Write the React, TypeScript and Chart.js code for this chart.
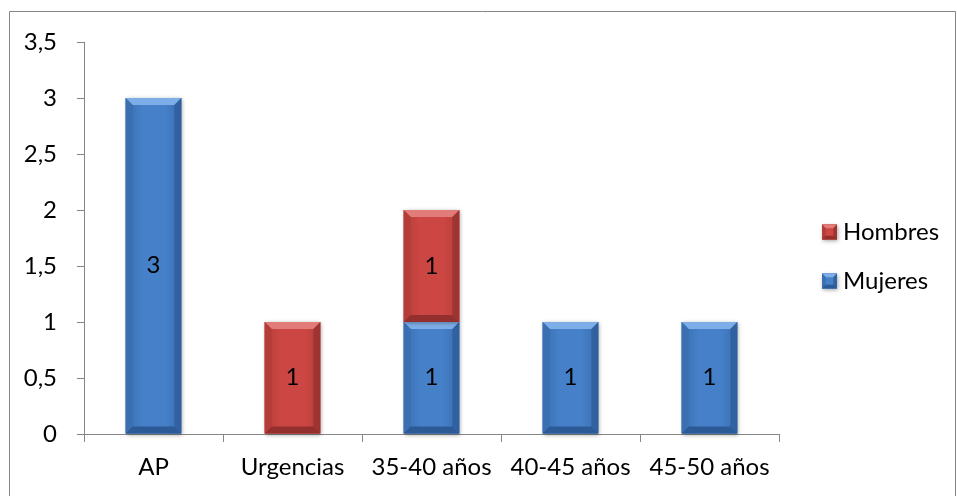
import React, { useEffect, useRef } from "react";
import { Chart, registerables } from "chart.js";

Chart.register(...registerables);

const categories = ["AP", "Urgencias", "35-40 años", "40-45 años", "45-50 años"];
const mujeres = [3, null, 1, 1, 1];
const hombres = [null, 1, 1, null, null];
const yTicks = [0, 0.5, 1, 1.5, 2, 2.5, 3, 3.5];

const FONT = "Lato";
const FS = 24;

const palettes: Record<string, { base: string; light: string; dark: string; side: string }> = {
  Mujeres: { base: "#4580c8", light: "#7eaee8", dark: "#2c5a96", side: "#3a6fb2" },
  Hombres: { base: "#cc4743", light: "#e27c78", dark: "#93302d", side: "#b53d39" },
};

function bevelRect(ctx: CanvasRenderingContext2D, l: number, t: number, w: number, h: number, p: { base: string; light: string; dark: string; side: string }) {
  const r = l + w;
  const b = t + h;
  const bv = Math.min(7, h / 4, w / 4);
  ctx.save();
  ctx.shadowColor = "rgba(0,0,0,0.35)";
  ctx.shadowBlur = 4;
  ctx.shadowOffsetX = 1;
  ctx.shadowOffsetY = 1;
  ctx.fillStyle = p.base;
  ctx.fillRect(l, t, w, h);
  ctx.restore();
  ctx.save();
  const g = ctx.createLinearGradient(l, 0, r, 0);
  g.addColorStop(0, p.side);
  g.addColorStop(0.3, p.base);
  g.addColorStop(0.7, p.base);
  g.addColorStop(1, p.side);
  ctx.fillStyle = g;
  ctx.fillRect(l, t, w, h);
  ctx.beginPath();
  ctx.moveTo(l, t);
  ctx.lineTo(r, t);
  ctx.lineTo(r - bv, t + bv);
  ctx.lineTo(l + bv, t + bv);
  ctx.closePath();
  ctx.fillStyle = p.light;
  ctx.fill();
  ctx.beginPath();
  ctx.moveTo(l, t);
  ctx.lineTo(l + bv, t + bv);
  ctx.lineTo(l + bv, b - bv);
  ctx.lineTo(l, b);
  ctx.closePath();
  ctx.fillStyle = p.side;
  ctx.fill();
  ctx.beginPath();
  ctx.moveTo(r, t);
  ctx.lineTo(r - bv, t + bv);
  ctx.lineTo(r - bv, b - bv);
  ctx.lineTo(r, b);
  ctx.closePath();
  ctx.fillStyle = p.dark;
  ctx.globalAlpha = 0.7;
  ctx.fill();
  ctx.globalAlpha = 1;
  ctx.beginPath();
  ctx.moveTo(l, b);
  ctx.lineTo(l + bv, b - bv);
  ctx.lineTo(r - bv, b - bv);
  ctx.lineTo(r, b);
  ctx.closePath();
  ctx.fillStyle = p.dark;
  ctx.fill();
  ctx.restore();
}

const bevelPlugin = {
  id: "bevel",
  afterDatasetsDraw(chart: any) {
    const ctx: CanvasRenderingContext2D = chart.ctx;
    chart.data.datasets.forEach((ds: any, i: number) => {
      const meta = chart.getDatasetMeta(i);
      const p = palettes[ds.label];
      meta.data.forEach((el: any, j: number) => {
        const v = ds.data[j];
        if (v === null || v === undefined || v === 0) return;
        const props = el.getProps(["x", "y", "base", "width"], true);
        const l = props.x - props.width / 2;
        const t = Math.min(props.y, props.base);
        const h = Math.abs(props.base - props.y);
        bevelRect(ctx, l, t, props.width, h, p);
        ctx.save();
        ctx.fillStyle = "#000";
        ctx.font = `${FS}px ${FONT}`;
        ctx.textAlign = "center";
        ctx.textBaseline = "middle";
        ctx.fillText(String(v).replace(".", ","), props.x, t + h / 2);
        ctx.restore();
      });
    });
  },
  afterDraw(chart: any) {
    const ctx: CanvasRenderingContext2D = chart.ctx;
    ctx.save();
    ctx.strokeStyle = "#868686";
    ctx.lineWidth = 1;
    ctx.beginPath();
    ctx.moveTo(9.5, chart.height + 5);
    ctx.lineTo(9.5, 11.5);
    ctx.lineTo(955.5, 11.5);
    ctx.lineTo(955.5, chart.height + 5);
    ctx.stroke();
    ctx.restore();
    const items = [...chart.data.datasets].reverse();
    const boxX = chart.chartArea.right + 43;
    const startY = 232;
    items.forEach((ds: any, k: number) => {
      const cy = startY + k * 49;
      bevelRect(ctx, boxX, cy - 7.5, 15, 15, palettes[ds.label]);
      ctx.save();
      ctx.fillStyle = "#000";
      ctx.font = `${FS}px ${FONT}`;
      ctx.textAlign = "left";
      ctx.textBaseline = "middle";
      ctx.fillText(ds.label, boxX + 21, cy);
      ctx.restore();
    });
  },
};

export default function App() {
  const ref = useRef<HTMLCanvasElement>(null);
  useEffect(() => {
    if (!ref.current) return;
    const chart = new Chart(ref.current, {
      type: "bar",
      data: {
        labels: categories,
        datasets: [
          { label: "Mujeres", data: mujeres, backgroundColor: "rgba(0,0,0,0)", stack: "s" },
          { label: "Hombres", data: hombres, backgroundColor: "rgba(0,0,0,0)", stack: "s" },
        ],
      },
      options: {
        animation: false,
        responsive: false,
        devicePixelRatio: 1,
        datasets: { bar: { barPercentage: 0.4, categoryPercentage: 1 } },
        layout: { padding: { left: 0, top: 42, right: 178, bottom: 0 } },
        plugins: { legend: { display: false }, tooltip: { enabled: false } },
        scales: {
          x: {
            stacked: true,
            grid: { drawOnChartArea: false, drawTicks: true, tickLength: 8, color: "#868686", offset: true },
            border: { color: "#868686" },
            ticks: { color: "#000", font: { family: FONT, size: FS }, padding: 11, maxRotation: 0 },
            afterFit: (s: any) => { s.height = 62; },
          },
          y: {
            stacked: true,
            min: 0,
            max: 3.5,
            afterBuildTicks: (s: any) => { s.ticks = yTicks.map((v) => ({ value: v })); },
            grid: { drawOnChartArea: false, drawTicks: true, tickLength: 7, color: "#868686" },
            border: { color: "#868686" },
            ticks: {
              color: "#000",
              font: { family: FONT, size: FS },
              padding: 20,
              callback: (v: any) => String(v).replace(".", ","),
            },
            afterFit: (s: any) => { s.width = 84; },
          },
        },
      },
      plugins: [bevelPlugin],
    });
    return () => chart.destroy();
  }, []);
  return (
    <div style={{ position: "fixed", left: 0, top: 0, width: 957, height: 496, background: "#fff" }}>
      <canvas ref={ref} width={957} height={496} style={{ width: 957, height: 496, display: "block" }} />
    </div>
  );
}
